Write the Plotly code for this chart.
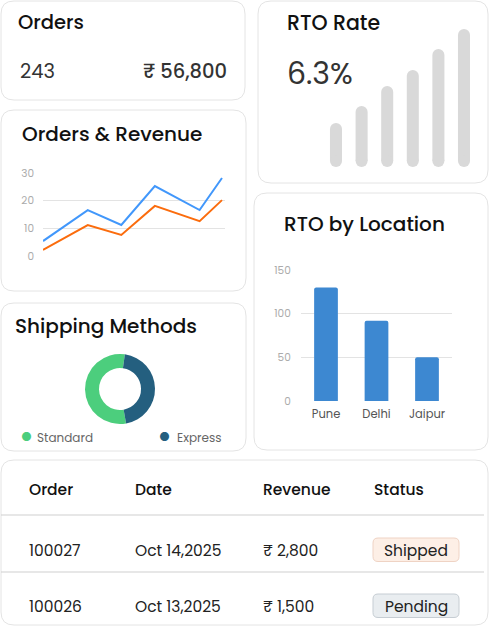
import plotly.graph_objects as go

W, H = 489, 626

# ---------------- data ----------------
orders_count = "243"
orders_revenue = "₹ 56,800"
rto_rate = "6.3%"

rto_trend_x = [1, 2, 3, 4, 5, 6]
rto_trend = [3.8, 5.5, 7.5, 9.1, 11.2, 13.2]

days = [1, 5, 8, 11, 15, 17]
orders_series = [5.4, 16.6, 11.2, 25.3, 16.6, 28.2]
revenue_series = [2.2, 11.2, 7.6, 18.1, 12.6, 20.2]
line_ticks = [0, 10, 20, 30]

ship_labels = ["Standard", "Express"]
ship_values = [55, 45]
ship_colors = ["#4cce7d", "#245f7f"]

locations = ["Pune", "Delhi", "Jaipur"]
rto_counts = [130, 92, 50]
loc_ticks = [0, 50, 100, 150]

table_header = ["Order", "Date", "Revenue", "Status"]
table_orders = ["100027", "100026"]
table_dates = ["Oct 14,2025", "Oct 13,2025"]
table_revenue = ["₹ 2,800", "₹ 1,500"]
table_status = ["Shipped", "Pending"]

# ---------------- helpers ----------------
def X(p):
    return p / W

def Y(p):
    return 1 - p / H

FONT = "Poppins, Inter, sans-serif"

def rrect(x0, y0, x1, y1, r):
    pts = [
        f"M{X(x0+r)},{Y(y0)}", f"L{X(x1-r)},{Y(y0)}", f"Q{X(x1)},{Y(y0)} {X(x1)},{Y(y0+r)}",
        f"L{X(x1)},{Y(y1-r)}", f"Q{X(x1)},{Y(y1)} {X(x1-r)},{Y(y1)}",
        f"L{X(x0+r)},{Y(y1)}", f"Q{X(x0)},{Y(y1)} {X(x0)},{Y(y1-r)}",
        f"L{X(x0)},{Y(y0+r)}", f"Q{X(x0)},{Y(y0)} {X(x0+r)},{Y(y0)}", "Z",
    ]
    return " ".join(pts)

shapes = []
cards = [(1, 1, 245, 100), (258, 1, 488, 183), (1, 110, 246, 291),
         (1, 303, 246, 451), (254, 193, 488, 450), (1, 460, 488, 625)]
for c in cards:
    shapes.append(dict(type="path", path=rrect(*c, 13), xref="paper", yref="paper",
                       fillcolor="white", line=dict(color="#e4e4e4", width=1), layer="below"))

annotations = []

def text(x, y, s, size, color="#222", weight=400, xanchor="left"):
    annotations.append(dict(x=X(x), y=Y(y), xref="paper", yref="paper", text=s, showarrow=False,
                            xanchor=xanchor, yanchor="middle", borderpad=0,
                            font=dict(family=FONT, size=size, color=color, weight=weight)))

# card texts
text(17, 22, "Orders", 19.5, "#111", 500)
text(19, 72, orders_count, 19.5, "#333", 400)
text(228, 72, orders_revenue, 19.5, "#333", 500, xanchor="right")
text(286, 23, "RTO Rate", 20.5, "#111", 500)
text(286, 73, rto_rate, 30, "#333", 400)
text(21, 134, "Orders & Revenue", 20, "#111", 500)
text(14, 326, "Shipping Methods", 20, "#111", 500)
text(364, 224, "RTO by Location", 20, "#111", 500, xanchor="center")

# pie legend
legend_pos = [(26, 36), (164, 176)]
for (dx, tx), lab, col in zip(legend_pos, ship_labels, ship_colors):
    text(dx, 436, "●", 12, col, 400, xanchor="center")
    text(tx, 437, lab, 12, "#666", 400)

# table
col_x = [28, 134, 262, 373]
for cx, h in zip(col_x, table_header):
    text(cx, 489, h, 15.5, "#111", 500)
for y0 in (515, 572):
    shapes.append(dict(type="line", xref="paper", yref="paper", x0=X(1), x1=X(484), y0=Y(y0), y1=Y(y0),
                       line=dict(color="#cfcfcf", width=1)))
row_y = [550, 606]
badge_style = {"Shipped": ("#fdefe6", "#efd3c4"), "Pending": ("#e9edf0", "#c6cdd3")}
for ry, o, d, rv, st in zip(row_y, table_orders, table_dates, table_revenue, table_status):
    text(28, ry, o, 15.5, "#222")
    text(134, ry, d, 15.5, "#222")
    text(262, ry, rv, 15.5, "#222")
    fill, edge = badge_style[st]
    shapes.append(dict(type="path", path=rrect(373, ry - 12, 459, ry + 11.5, 5), xref="paper", yref="paper",
                       fillcolor=fill, line=dict(color=edge, width=1), layer="below"))
    text(416, ry, st, 15.5, "#222", 400, xanchor="center")

# ---------------- traces ----------------
fig = go.Figure()

fig.add_trace(go.Scatter(x=days, y=orders_series, mode="lines", line=dict(color="#4197fb", width=2),
                         xaxis="x", yaxis="y", hoverinfo="skip", cliponaxis=False))
fig.add_trace(go.Scatter(x=days, y=revenue_series, mode="lines", line=dict(color="#fb6c0d", width=2),
                         xaxis="x", yaxis="y", hoverinfo="skip", cliponaxis=False))

fig.add_trace(go.Bar(x=rto_trend_x, y=rto_trend, marker=dict(color="#d9d9d9", cornerradius=6, line=dict(width=0)),
                     xaxis="x2", yaxis="y2", hoverinfo="skip"))
fig.add_trace(go.Scatter(x=rto_trend_x, y=[0] * len(rto_trend_x), mode="markers",
                         marker=dict(color="#d9d9d9", size=12, symbol="circle", line=dict(width=0)),
                         xaxis="x2", yaxis="y2", hoverinfo="skip", cliponaxis=False))

fig.add_trace(go.Bar(x=locations, y=rto_counts, marker=dict(color="#3d88d1", cornerradius=2, line=dict(width=0)),
                     xaxis="x3", yaxis="y3", hoverinfo="skip"))

fig.add_trace(go.Pie(labels=ship_labels, values=ship_values, hole=0.6, sort=False, direction="clockwise",
                     rotation=170, marker=dict(colors=ship_colors, line=dict(width=0)),
                     textinfo="none", hoverinfo="skip", automargin=False,
                     domain=dict(x=[X(85), X(155)], y=[Y(424), Y(354)])))

tickfont_light = dict(family=FONT, size=10.5, color="#ababab")

fig.update_layout(
    width=W, height=H, autosize=False, margin=dict(l=0, r=0, t=0, b=0, pad=0, autoexpand=False),
    paper_bgcolor="white", plot_bgcolor="rgba(0,0,0,0)",
    showlegend=False, shapes=shapes, annotations=annotations,
    bargap=0.53,
    xaxis=dict(domain=[X(43), X(225)], anchor="y", range=[1, 17.27], showgrid=False, showticklabels=False,
               zeroline=False, showline=False, fixedrange=True, automargin=False),
    yaxis=dict(domain=[Y(256), Y(173)], anchor="x", range=[0, 30], tickvals=line_ticks, gridcolor="#e3e3e3",
               zeroline=False, showline=False, ticks="", tickfont=tickfont_light, ticklabelstandoff=8,
               fixedrange=True, automargin=False),
    xaxis2=dict(domain=[X(323.2), X(476.8)], anchor="y2", range=[0.5, 6.5], showgrid=False,
                showticklabels=False, zeroline=False, showline=False, fixedrange=True, automargin=False),
    yaxis2=dict(domain=[Y(161), Y(29)], anchor="x2", range=[0, 13.2], showgrid=False, showticklabels=False,
                zeroline=False, showline=False, fixedrange=True, automargin=False),
    xaxis3=dict(domain=[X(300.75), X(452.25)], anchor="y3", showgrid=False, zeroline=False, showline=False,
                ticks="", tickfont=dict(family=FONT, size=11.5, color="#555"), ticklabelstandoff=4,
                fixedrange=True, automargin=False),
    yaxis3=dict(domain=[Y(401), Y(270)], anchor="x3", range=[0, 150], tickvals=loc_ticks, gridcolor="#e3e3e3",
                zeroline=False, showline=False, ticks="", tickfont=tickfont_light, ticklabelstandoff=9,
                fixedrange=True, automargin=False),
)

fig.write_html("out.html", config={"displayModeBar": False, "staticPlot": True, "responsive": False},
               post_script="var d=document.getElementById('{plot_id}');document.body.style.margin='0';"
                           "document.body.style.overflow='hidden';d.style.position='fixed';"
                           "d.style.left='0px';d.style.top='0px';")
